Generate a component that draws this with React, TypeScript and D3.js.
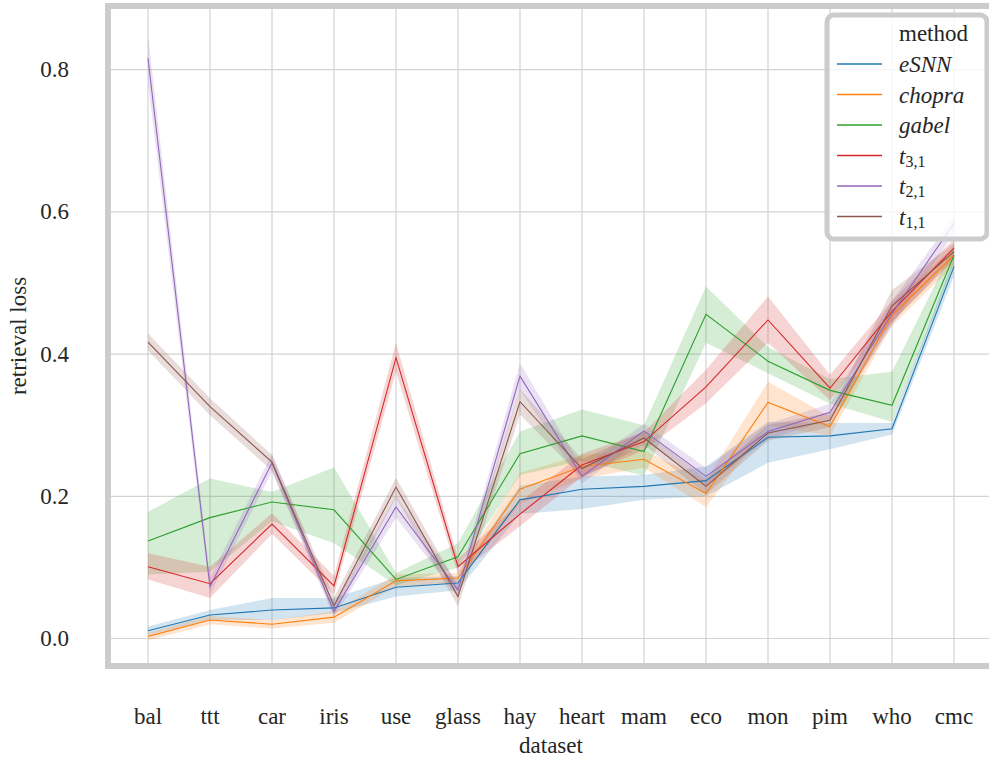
import * as d3 from 'd3';

const categories = ['bal', 'ttt', 'car', 'iris', 'use', 'glass', 'hay', 'heart', 'mam', 'eco', 'mon', 'pim', 'who', 'cmc'];

const esnnMean = [0.011, 0.033, 0.040, 0.043, 0.072, 0.078, 0.195, 0.210, 0.214, 0.222, 0.283, 0.285, 0.295, 0.523];
const esnnLo = [0.005, 0.026, 0.026, 0.036, 0.059, 0.068, 0.175, 0.182, 0.195, 0.200, 0.247, 0.266, 0.287, 0.510];
const esnnHi = [0.017, 0.040, 0.057, 0.057, 0.085, 0.088, 0.215, 0.228, 0.230, 0.242, 0.305, 0.303, 0.303, 0.535];

const chopraMean = [0.003, 0.026, 0.020, 0.030, 0.081, 0.085, 0.210, 0.242, 0.252, 0.204, 0.332, 0.298, 0.455, 0.539];
const chopraLo = [-0.003, 0.020, 0.014, 0.022, 0.073, 0.078, 0.190, 0.225, 0.240, 0.185, 0.300, 0.285, 0.440, 0.525];
const chopraHi = [0.008, 0.032, 0.026, 0.038, 0.090, 0.092, 0.233, 0.258, 0.265, 0.222, 0.361, 0.312, 0.470, 0.552];

const gabelMean = [0.137, 0.170, 0.192, 0.181, 0.083, 0.115, 0.260, 0.285, 0.263, 0.456, 0.390, 0.349, 0.328, 0.539];
const gabelLo = [0.090, 0.094, 0.165, 0.134, 0.075, 0.100, 0.230, 0.250, 0.229, 0.416, 0.373, 0.330, 0.305, 0.525];
const gabelHi = [0.178, 0.225, 0.206, 0.241, 0.092, 0.134, 0.291, 0.322, 0.300, 0.495, 0.410, 0.365, 0.375, 0.552];

const t31Mean = [0.101, 0.077, 0.161, 0.074, 0.395, 0.101, 0.175, 0.244, 0.277, 0.354, 0.448, 0.352, 0.460, 0.549];
const t31Lo = [0.083, 0.057, 0.147, 0.062, 0.375, 0.090, 0.158, 0.228, 0.265, 0.331, 0.416, 0.335, 0.445, 0.535];
const t31Hi = [0.120, 0.101, 0.176, 0.088, 0.416, 0.112, 0.192, 0.260, 0.290, 0.378, 0.481, 0.371, 0.475, 0.562];

const t21Mean = [0.816, 0.073, 0.247, 0.038, 0.185, 0.068, 0.369, 0.228, 0.292, 0.228, 0.291, 0.318, 0.457, 0.584];
const t21Lo = [0.782, 0.062, 0.235, 0.030, 0.170, 0.058, 0.350, 0.218, 0.282, 0.215, 0.280, 0.308, 0.440, 0.570];
const t21Hi = [0.849, 0.085, 0.260, 0.048, 0.200, 0.078, 0.387, 0.240, 0.302, 0.240, 0.302, 0.330, 0.475, 0.593];

const t11Mean = [0.417, 0.326, 0.248, 0.046, 0.213, 0.059, 0.333, 0.239, 0.282, 0.214, 0.289, 0.307, 0.468, 0.544];
const t11Lo = [0.405, 0.314, 0.236, 0.034, 0.198, 0.045, 0.315, 0.226, 0.272, 0.203, 0.278, 0.297, 0.445, 0.532];
const t11Hi = [0.429, 0.338, 0.258, 0.058, 0.226, 0.073, 0.351, 0.252, 0.292, 0.225, 0.300, 0.318, 0.490, 0.556];

const yTicks = [0, 0.2, 0.4, 0.6, 0.8];

type Series = {
  key: string;
  base: string;
  sub?: string;
  color: string;
  mean: number[];
  lo: number[];
  hi: number[];
};

const series: Series[] = [
  { key: 'eSNN', base: 'eSNN', color: '#1f77b4', mean: esnnMean, lo: esnnLo, hi: esnnHi },
  { key: 'chopra', base: 'chopra', color: '#ff7f0e', mean: chopraMean, lo: chopraLo, hi: chopraHi },
  { key: 'gabel', base: 'gabel', color: '#2ca02c', mean: gabelMean, lo: gabelLo, hi: gabelHi },
  { key: 't31', base: 't', sub: '3,1', color: '#d62728', mean: t31Mean, lo: t31Lo, hi: t31Hi },
  { key: 't21', base: 't', sub: '2,1', color: '#9467bd', mean: t21Mean, lo: t21Lo, hi: t21Hi },
  { key: 't11', base: 't', sub: '1,1', color: '#8c564b', mean: t11Mean, lo: t11Lo, hi: t11Hi },
];

const width = 989;
const height = 760;
const font = '"Liberation Serif", "DejaVu Serif", serif';
const textColor = '#262626';
const gridColor = '#d4d4d4';
const frameColor = '#cccccc';

// axes box (right edge runs off the picture, like the original)
const axLeft = 108;
const axRight = 994;
const axTop = 6;
const axBottom = 666;

export default function App() {
  const x = d3.scalePoint<string>().domain(categories).range([148, 954]);
  const y = d3.scaleLinear().domain([-0.0387, 0.8896]).range([axBottom, axTop]);

  const line = d3
    .line<number>()
    .x((_, i) => x(categories[i]) as number)
    .y((d) => y(d));

  const bands = series.map((s) => {
    const area = d3
      .area<number>()
      .x((_, i) => x(categories[i]) as number)
      .y0((_, i) => y(s.lo[i]))
      .y1((_, i) => y(s.hi[i]));
    return <path key={s.key} d={area(s.mean) || ''} fill={s.color} fillOpacity={0.2} stroke="none" />;
  });

  const lines = series.map((s) => (
    <path key={s.key} d={line(s.mean) || ''} fill="none" stroke={s.color} strokeWidth={1.1} />
  ));

  // legend
  const lgX = 827;
  const lgY = 15;
  const lgW = 160;
  const lgH = 224;
  const rowY = (i: number) => 33.5 + i * 30.5;

  return (
    <svg
      width={width}
      height={height}
      style={{ position: 'absolute', left: 0, top: 0, background: '#fff' }}
      fontFamily={font}
    >
      <defs>
        <clipPath id="plot-clip">
          <rect x={axLeft} y={axTop} width={axRight - axLeft} height={axBottom - axTop} />
        </clipPath>
      </defs>

      {/* grid */}
      {categories.map((c) => (
        <line key={c} x1={x(c)} x2={x(c)} y1={axTop} y2={axBottom} stroke={gridColor} strokeWidth={1.2} />
      ))}
      {yTicks.map((t) => (
        <line key={t} x1={axLeft} x2={axRight} y1={y(t)} y2={y(t)} stroke={gridColor} strokeWidth={1.2} />
      ))}

      <g clipPath="url(#plot-clip)">
        {bands}
        {lines}
      </g>

      {/* frame */}
      <rect
        x={axLeft}
        y={axTop}
        width={axRight - axLeft}
        height={axBottom - axTop}
        fill="none"
        stroke={frameColor}
        strokeWidth={6}
      />

      {/* y tick labels */}
      {yTicks.map((t) => (
        <text
          key={t}
          x={69}
          y={y(t)}
          textAnchor="end"
          dominantBaseline="central"
          fontSize={23}
          fill={textColor}
        >
          {d3.format('.1f')(t)}
        </text>
      ))}

      {/* x tick labels */}
      {categories.map((c) => (
        <text key={c} x={x(c)} y={716} textAnchor="middle" dominantBaseline="central" fontSize={23} fill={textColor}>
          {c}
        </text>
      ))}

      <text x={(axLeft + axRight) / 2} y={745} textAnchor="middle" dominantBaseline="central" fontSize={23} fill={textColor}>
        dataset
      </text>
      <text
        transform={`translate(18, ${(axTop + axBottom) / 2}) rotate(-90)`}
        textAnchor="middle"
        dominantBaseline="central"
        fontSize={23}
        fill={textColor}
      >
        retrieval loss
      </text>

      {/* legend */}
      <rect
        x={lgX}
        y={lgY}
        width={lgW}
        height={lgH}
        rx={7}
        fill="#ffffff"
        fillOpacity={0.8}
        stroke={frameColor}
        strokeWidth={5}
      />
      <text x={899} y={rowY(0)} dominantBaseline="central" fontSize={23} fill={textColor}>
        method
      </text>
      {series.map((s, i) => (
        <g key={s.key}>
          <line x1={837} x2={882} y1={rowY(i + 1)} y2={rowY(i + 1)} stroke={s.color} strokeWidth={1.3} />
          <text x={899} y={rowY(i + 1)} dominantBaseline="central" fontSize={23} fill={textColor}>
            <tspan fontStyle="italic">{s.base}</tspan>
            {s.sub && (
              <tspan fontSize={16} dy={5}>
                {s.sub}
              </tspan>
            )}
          </text>
        </g>
      ))}
    </svg>
  );
}
